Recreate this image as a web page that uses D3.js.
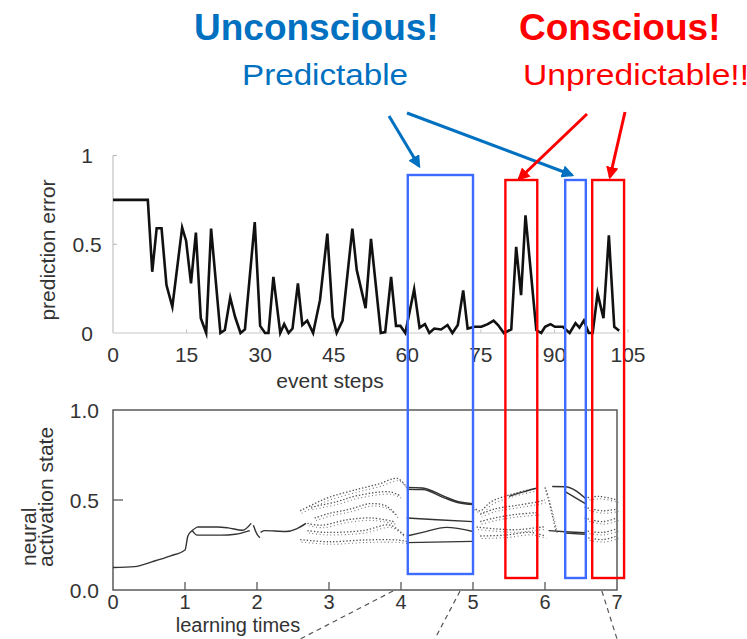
<!DOCTYPE html>
<html>
<head>
<meta charset="utf-8">
<script src="https://cdn.jsdelivr.net/npm/d3@7/dist/d3.min.js"></script>
<style>
  html, body { margin: 0; padding: 0; background: #fff; }
  svg { display: block; font-family: "Liberation Sans", Arial, Helvetica, sans-serif; }
</style>
</head>
<body>
<svg id="chart" width="747" height="639"></svg>
<script>
// ---------- Prediction error per event step (upper panel) ----------
const eventSteps = [0, 7.1, 8.0, 8.9, 9.9, 10.9, 12.1, 14.1, 14.9, 15.9, 16.9, 17.9, 19.0, 20.0, 21.9, 22.8,
  23.9, 24.9, 26.0, 26.9, 28.9, 30.0, 31.0, 31.7, 32.7, 34.1, 34.9, 35.8, 36.6, 37.7, 38.6, 39.6, 40.8,
  42.2, 43.7, 44.8, 45.6, 46.8, 48.8, 49.7, 51.5, 52.6, 54.6, 55.5, 56.7, 57.7, 58.6, 59.6, 61.4, 62.5,
  63.6, 64.5, 65.5, 66.9, 68.2, 69.2, 70.3, 71.4, 72.3, 73.7, 75.1, 76.4, 77.6, 78.5, 79.7, 81.2, 82.2,
  83.2, 84.1, 86.3, 87.3, 88.1, 89.2, 90.1, 91.7, 93.1, 94.3, 95.1, 96.0, 97.0, 97.8, 98.8, 100.0, 101.1,
  102.2, 103.2];
const predictionError = [0.75, 0.75, 0.345, 0.59, 0.59, 0.27, 0.148, 0.594, 0.52, 0.28, 0.566, 0.083, 0, 0.588, 0, 0.017,
  0.2, 0.09, 0, 0.02, 0.625, 0.04, 0, 0, 0.316, 0, 0.05, 0, 0.025, 0.28, 0.045, 0.07, 0,
  0.185, 0.56, 0.09, 0, 0.07, 0.588, 0.354, 0.14, 0.53, 0, 0.005, 0.316, 0.04, 0.04, 0, 0.247, 0.03,
  0.05, 0, 0.025, 0.02, 0.045, 0, 0.045, 0.24, 0.025, 0.035, 0.035, 0.05, 0.07, 0.045, 0, 0.02, 0.485,
  0.213, 0.663, 0.017, 0, 0.035, 0.05, 0.035, 0.035, 0, 0.055, 0.03, 0.07, 0, 0, 0.223, 0.083, 0.55,
  0.035, 0.013];
const stepTicks = [0, 15, 30, 45, 60, 75, 90, 105];
const errorTicks = [0, 0.5, 1];

// ---------- Neural activation state over learning time (lower panel) ----------
// Smooth, settled trajectories [learning time, activation]
const settledTraces = [
  [[0, 0.125], [0.3, 0.13], [0.55, 0.158], [0.8, 0.19], [1.0, 0.222], [1.04, 0.3], [1.1, 0.33], [1.17, 0.35]],
  [[1.17, 0.35], [1.45, 0.35], [1.6, 0.345], [1.8, 0.332], [1.92, 0.37]],
  [[1.1, 0.33], [1.17, 0.305], [1.5, 0.305], [1.7, 0.31], [1.9, 0.33]],
  [[1.95, 0.36], [2.0, 0.31], [2.04, 0.29]],
  [[2.05, 0.32], [2.1, 0.33], [2.4, 0.325], [2.55, 0.34], [2.68, 0.37]],
  [[4.08, 0.57], [4.3, 0.567], [4.6, 0.52], [4.8, 0.49], [5.0, 0.48]],
  [[4.08, 0.56], [4.3, 0.558], [4.6, 0.512], [4.8, 0.485], [5.0, 0.475]],
  [[4.08, 0.4], [4.5, 0.39], [5.0, 0.38]],
  [[4.08, 0.3], [4.3, 0.32], [4.63, 0.348], [5.0, 0.325]],
  [[4.08, 0.263], [5.0, 0.27]],
  [[5.5, 0.52], [5.7, 0.545], [5.88, 0.565]],
  [[6.1, 0.575], [6.28, 0.574], [6.56, 0.51]],
  [[6.28, 0.546], [6.56, 0.48]],
  [[6.05, 0.33], [6.28, 0.324], [6.56, 0.318]],
  [[6.28, 0.316], [6.56, 0.31]]
];
// Wandering, chaotic trajectories [learning time, activation]
const chaoticTraces = [
  [[2.6, 0.44], [2.8, 0.48], [3.0, 0.515], [3.4, 0.56], [3.7, 0.59], [3.95, 0.62], [4.08, 0.57]],
  [[2.75, 0.46], [3.1, 0.49], [3.4, 0.525], [3.85, 0.545], [4.0, 0.52]],
  [[2.8, 0.4], [3.0, 0.425], [3.3, 0.45], [3.57, 0.48], [3.8, 0.465], [3.95, 0.41]],
  [[2.7, 0.37], [2.9, 0.36], [3.25, 0.39], [3.6, 0.4], [3.9, 0.38]],
  [[2.7, 0.33], [2.95, 0.32], [3.47, 0.33], [3.85, 0.36], [4.05, 0.3]],
  [[2.6, 0.28], [3.0, 0.268], [3.5, 0.278], [3.95, 0.278], [4.08, 0.27]],
  [[5.0, 0.46], [5.1, 0.44], [5.25, 0.49], [5.58, 0.537], [5.88, 0.565]],
  [[5.1, 0.42], [5.3, 0.45], [5.6, 0.47], [5.9, 0.49], [6.0, 0.5]],
  [[5.1, 0.38], [5.3, 0.4], [5.6, 0.42], [5.9, 0.43]],
  [[5.05, 0.35], [5.3, 0.34], [5.6, 0.335], [6.0, 0.352]],
  [[5.1, 0.3], [5.45, 0.305], [5.8, 0.32], [6.0, 0.3]],
  [[6.0, 0.57], [6.05, 0.5], [6.1, 0.42], [6.15, 0.33]],
  [[6.55, 0.51], [6.75, 0.52], [7.0, 0.5]],
  [[6.55, 0.46], [6.8, 0.44], [7.0, 0.45]],
  [[6.55, 0.4], [6.8, 0.38], [7.0, 0.4]],
  [[6.55, 0.33], [6.8, 0.32], [7.0, 0.34]],
  [[6.6, 0.29], [6.8, 0.28], [7.0, 0.3]]
];
const timeTicks = [0, 1, 2, 3, 4, 5, 6, 7];
const stateTicks = [0, 0.5, 1];
// Dashed leaders from the time axis: [start time on axis, time where it leaves the frame]
const zoomLeaders = [[3.89, 2.6], [4.82, 4.47], [6.79, 7.0]];

// ---------- Highlighted windows, in event steps ----------
const predictableWindows = [[60.1, 73.4], [92.2, 96.4]];
const unpredictableWindows = [[80.0, 86.5], [97.7, 104.2]];

const BLUE_TEXT = "#0070C0", RED = "#FF0000", BOX_BLUE = "#3D6BFF";
const svg = d3.select("#chart");

// ---------- Upper panel ----------
const xStep = d3.scaleLinear().domain([0, 105]).range([113, 628]);
const yErr = d3.scaleLinear().domain([0, 1]).range([333, 155.5]);
const upperPanel = svg.append("g");

upperPanel.append("line").attr("x1", xStep(0)).attr("x2", xStep(0)).attr("y1", yErr(1)).attr("y2", yErr(0))
  .attr("stroke", "#b5b5b5").attr("stroke-width", 1);
upperPanel.append("line").attr("x1", xStep(0)).attr("x2", xStep(103.6)).attr("y1", yErr(0)).attr("y2", yErr(0))
  .attr("stroke", "#c8c8c8").attr("stroke-width", 1.2);
upperPanel.selectAll(".yt").data(errorTicks.filter(d => d > 0)).join("line")
  .attr("x1", xStep(0)).attr("x2", xStep(0) + 4).attr("y1", d => yErr(d)).attr("y2", d => yErr(d))
  .attr("stroke", "#b5b5b5");
upperPanel.selectAll(".xt").data(stepTicks.filter(d => d > 0)).join("line")
  .attr("x1", d => xStep(d)).attr("x2", d => xStep(d)).attr("y1", yErr(0)).attr("y2", yErr(0) - 4)
  .attr("stroke", "#c8c8c8");
upperPanel.selectAll(".yl").data(errorTicks).join("text")
  .attr("x", 87).attr("y", d => yErr(d) + 7.5).attr("text-anchor", "middle")
  .attr("font-size", 21).attr("fill", "#333").text(d => d);
upperPanel.selectAll(".xl").data(stepTicks).join("text")
  .attr("x", d => xStep(d)).attr("y", 361.5).attr("text-anchor", "middle")
  .attr("font-size", 21).attr("fill", "#333").text(d => d);
upperPanel.append("text").attr("x", 330).attr("y", 388).attr("text-anchor", "middle")
  .attr("font-size", 21).attr("fill", "#333").text("event steps");
upperPanel.append("text").attr("transform", "translate(55,250) rotate(-90)").attr("text-anchor", "middle")
  .attr("font-size", 21).attr("fill", "#333").text("prediction error");

const errLine = d3.line().x(d => xStep(d[0])).y(d => yErr(d[1]));
upperPanel.append("path").datum(eventSteps.map((s, i) => [s, predictionError[i]]))
  .attr("d", errLine).attr("fill", "none").attr("stroke", "#111").attr("stroke-width", 2.6)
  .attr("stroke-linejoin", "miter").attr("stroke-miterlimit", 6);

// ---------- Lower panel ----------
const xTime = d3.scaleLinear().domain([0, 7]).range([113, 617]);
const yState = d3.scaleLinear().domain([0, 1]).range([590, 410]);
const lowerPanel = svg.append("g");

lowerPanel.append("rect").attr("x", xTime(0)).attr("y", yState(1))
  .attr("width", xTime(7) - xTime(0)).attr("height", yState(0) - yState(1))
  .attr("fill", "none").attr("stroke", "#5a5a5a").attr("stroke-width", 1.5);
lowerPanel.selectAll(".bt").data(timeTicks.filter(d => d > 0 && d < 7)).join("line")
  .attr("x1", d => xTime(d)).attr("x2", d => xTime(d)).attr("y1", yState(0)).attr("y2", yState(0) - 8)
  .attr("stroke", "#5a5a5a").attr("stroke-width", 1.3);
lowerPanel.append("line").attr("x1", xTime(0)).attr("x2", xTime(0) + 10)
  .attr("y1", yState(0.5)).attr("y2", yState(0.5)).attr("stroke", "#5a5a5a").attr("stroke-width", 1.3);
lowerPanel.selectAll(".bxl").data(timeTicks).join("text")
  .attr("x", d => xTime(d)).attr("y", 609).attr("text-anchor", "middle")
  .attr("font-size", 20).attr("fill", "#333").text(d => d);
lowerPanel.selectAll(".byl").data(stateTicks).join("text")
  .attr("x", 99).attr("y", d => yState(d) + 8).attr("text-anchor", "end")
  .attr("font-size", 21).attr("fill", "#333").text(d => d.toFixed(1));
lowerPanel.append("text").attr("x", 238).attr("y", 632).attr("text-anchor", "middle")
  .attr("font-size", 20).attr("fill", "#333").text("learning times");
lowerPanel.append("text").attr("transform", "translate(36,566) rotate(-90)").attr("text-anchor", "start")
  .attr("font-size", 21).attr("fill", "#333").text("neural");
lowerPanel.append("text").attr("transform", "translate(53,567) rotate(-90)").attr("text-anchor", "start")
  .attr("font-size", 21).attr("fill", "#333").text("activation state");

const stateLine = d3.line().x(d => xTime(d[0])).y(d => yState(d[1])).curve(d3.curveMonotoneX);
const stateLineLoose = d3.line().x(d => xTime(d[0])).y(d => yState(d[1])).curve(d3.curveCatmullRom);
lowerPanel.selectAll(".chaos").data(chaoticTraces).join("path")
  .attr("d", stateLineLoose).attr("fill", "none").attr("stroke", "#555")
  .attr("stroke-width", 1.3).attr("stroke-dasharray", "1.4 1.9");
lowerPanel.selectAll(".chaos2").data(chaoticTraces).join("path")
  .attr("d", stateLineLoose).attr("fill", "none").attr("stroke", "#777")
  .attr("transform", "translate(1.5,2.5)")
  .attr("stroke-width", 1.1).attr("stroke-dasharray", "1 2.6");
lowerPanel.selectAll(".settled").data(settledTraces).join("path")
  .attr("d", stateLine).attr("fill", "none").attr("stroke", "#333").attr("stroke-width", 1.4);

lowerPanel.selectAll(".leader").data(zoomLeaders).join("line")
  .attr("x1", d => xTime(d[0])).attr("y1", yState(0) + 1)
  .attr("x2", d => xTime(d[1])).attr("y2", 639)
  .attr("stroke", "#555").attr("stroke-width", 1.2).attr("stroke-dasharray", "5 4");

// ---------- Highlight windows spanning both panels ----------
const ann = svg.append("g");
ann.selectAll(".pw").data(predictableWindows).join("rect")
  .attr("x", d => xStep(d[0])).attr("width", d => xStep(d[1]) - xStep(d[0]))
  .attr("y", (d, i) => i === 0 ? 175 : 180).attr("height", (d, i) => i === 0 ? 399 : 398)
  .attr("fill", "none").attr("stroke", BOX_BLUE).attr("stroke-width", 2.4);
ann.selectAll(".uw").data(unpredictableWindows).join("rect")
  .attr("x", d => xStep(d[0])).attr("width", d => xStep(d[1]) - xStep(d[0]))
  .attr("y", 180).attr("height", 398)
  .attr("fill", "none").attr("stroke", RED).attr("stroke-width", 2.4);

// ---------- Headings and arrows ----------
const defs = svg.append("defs");
[["headBlue", BLUE_TEXT], ["headRed", RED]].forEach(([id, c]) => {
  defs.append("marker").attr("id", id).attr("viewBox", "0 0 10 10").attr("refX", 8).attr("refY", 5)
    .attr("markerWidth", 4.2).attr("markerHeight", 4.2).attr("orient", "auto-start-reverse")
    .append("path").attr("d", "M0,0 L10,5 L0,10 z").attr("fill", c);
});

svg.append("text").attr("x", 194).attr("y", 40).attr("font-size", 37).attr("font-weight", "bold")
  .attr("fill", BLUE_TEXT).text("Unconscious!");
svg.append("text").attr("x", 519).attr("y", 40).attr("font-size", 37).attr("font-weight", "bold")
  .attr("fill", RED).text("Conscious!");
svg.append("text").attr("x", 242).attr("y", 85).attr("font-size", 29)
  .attr("textLength", 166).attr("lengthAdjust", "spacingAndGlyphs")
  .attr("fill", BLUE_TEXT).text("Predictable");
svg.append("text").attr("x", 523).attr("y", 85).attr("font-size", 29)
  .attr("textLength", 226).attr("lengthAdjust", "spacingAndGlyphs")
  .attr("fill", RED).text("Unpredictable!!");

const arrows = [
  { from: [389, 116], to: [419, 166], c: BLUE_TEXT, m: "headBlue" },
  { from: [407, 113], to: [572, 175], c: BLUE_TEXT, m: "headBlue" },
  { from: [587, 114], to: [519, 179], c: RED, m: "headRed" },
  { from: [625, 112], to: [610, 177], c: RED, m: "headRed" }
];
svg.selectAll(".arrow").data(arrows).join("line")
  .attr("x1", d => d.from[0]).attr("y1", d => d.from[1])
  .attr("x2", d => d.to[0]).attr("y2", d => d.to[1])
  .attr("stroke", d => d.c).attr("stroke-width", 3)
  .attr("marker-end", d => `url(#${d.m})`);
</script>
</body>
</html>
